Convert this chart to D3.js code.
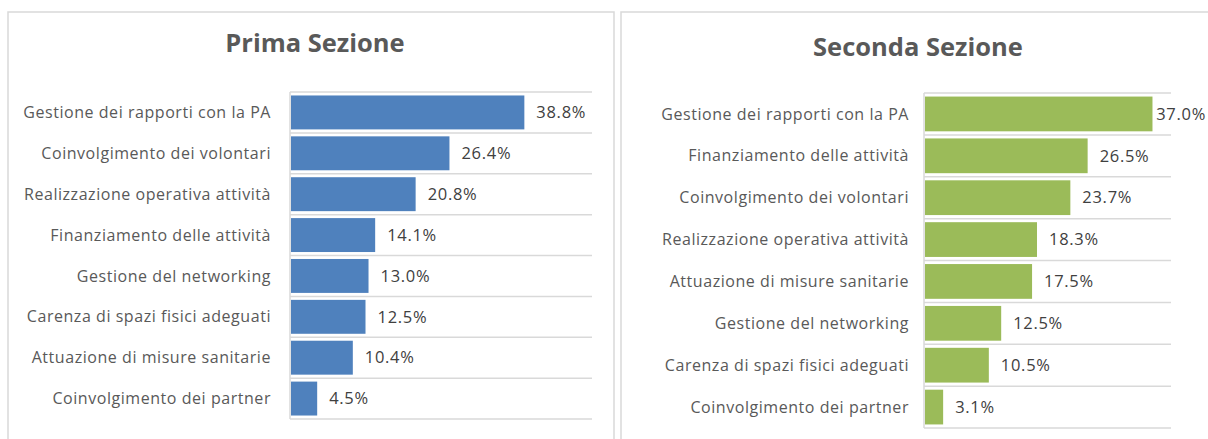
<!DOCTYPE html>
<html><head><meta charset="utf-8">
<script src="https://cdn.jsdelivr.net/npm/d3@7"></script>
<style>
html,body{margin:0;padding:0;background:#fff;}
svg{display:block;font-family:"Open Sans",Lato,sans-serif;}
</style></head>
<body><svg id="c" width="1208" height="439"></svg>
<script>
const titles = ["Prima Sezione", "Seconda Sezione"];
const cats1 = ["Gestione dei rapporti con la PA","Coinvolgimento dei volontari","Realizzazione operativa attività","Finanziamento delle attività","Gestione del networking","Carenza di spazi fisici adeguati","Attuazione di misure sanitarie","Coinvolgimento dei partner"];
const vals1 = [38.8, 26.4, 20.8, 14.1, 13.0, 12.5, 10.4, 4.5];
const cats2 = ["Gestione dei rapporti con la PA","Finanziamento delle attività","Coinvolgimento dei volontari","Realizzazione operativa attività","Attuazione di misure sanitarie","Gestione del networking","Carenza di spazi fisici adeguati","Coinvolgimento dei partner"];
const vals2 = [37.0, 26.5, 23.7, 18.3, 17.5, 12.5, 10.5, 3.1];
const xMax1 = 50, xMax2 = 40;

const svg = d3.select("#c");
const W = 1208;

function panel(cfg){
  const g = svg.append("g");
  g.append("rect").attr("x",cfg.bx).attr("y",cfg.by).attr("width",cfg.bw).attr("height",cfg.bh)
    .attr("fill","#fff").attr("stroke","#d9d9d9").attr("stroke-width",1.5);
  g.append("text").attr("x",cfg.tx).attr("y",cfg.ty).attr("text-anchor","middle")
    .attr("font-size",25.5).attr("font-weight",700).attr("fill","#595959").text(cfg.title);
  const x = d3.scaleLinear().domain([0,cfg.xmax]).range([cfg.l,cfg.r]);
  const y = d3.scaleBand().domain(cfg.cats).range([cfg.t,cfg.b]).paddingInner(0.17).paddingOuter(0.085);
  const yb = d3.scaleBand().domain(cfg.cats).range([cfg.t,cfg.b]);
  const bounds = cfg.cats.map(c=>yb(c)).concat([cfg.b]);
  g.selectAll("line.grid").data(bounds).join("line")
    .attr("x1",cfg.l).attr("x2",cfg.r).attr("y1",d=>d).attr("y2",d=>d)
    .attr("stroke","#d9d9d9").attr("stroke-width",1.5);
  g.selectAll("rect.bar").data(cfg.vals).join("rect")
    .attr("x",x(0)+1).attr("y",(d,i)=>y(cfg.cats[i]))
    .attr("width",d=>x(d)-x(0)-1).attr("height",y.bandwidth())
    .attr("fill",cfg.color);
  g.append("line").attr("x1",cfg.l).attr("x2",cfg.l).attr("y1",cfg.t).attr("y2",cfg.b)
    .attr("stroke","#d9d9d9").attr("stroke-width",1.5);
  g.selectAll("text.cat").data(cfg.cats).join("text")
    .attr("x",cfg.l-cfg.gap).attr("y",d=>yb(d)+yb.bandwidth()/2).attr("dy","0.35em")
    .attr("text-anchor","end").attr("font-size",16).attr("letter-spacing","0.55px")
    .attr("fill","#595959").text(d=>d);
  g.selectAll("text.val").data(cfg.vals).join("text")
    .attr("y",(d,i)=>yb(cfg.cats[i])+yb.bandwidth()/2).attr("dy","0.35em")
    .attr("font-size",16.5).attr("letter-spacing","0.7px")
    .attr("fill","#404040").text(d=>d.toFixed(1)+"%")
    .attr("x",function(d){ const w=this.getComputedTextLength(); return Math.min(x(d)+12, W-2-w); });
}

panel({title:titles[0],cats:cats1,vals:vals1,xmax:xMax1,color:"#4f81bd",gap:19,
  bx:8,by:12,bw:606,bh:450,tx:315,ty:52,l:290,r:592,t:92,b:419});
panel({title:titles[1],cats:cats2,vals:vals2,xmax:xMax2,color:"#9bbb59",gap:15,
  bx:621,by:12,bw:620,bh:450,tx:918,ty:56,l:924,r:1171,t:93,b:428});
</script></body></html>
